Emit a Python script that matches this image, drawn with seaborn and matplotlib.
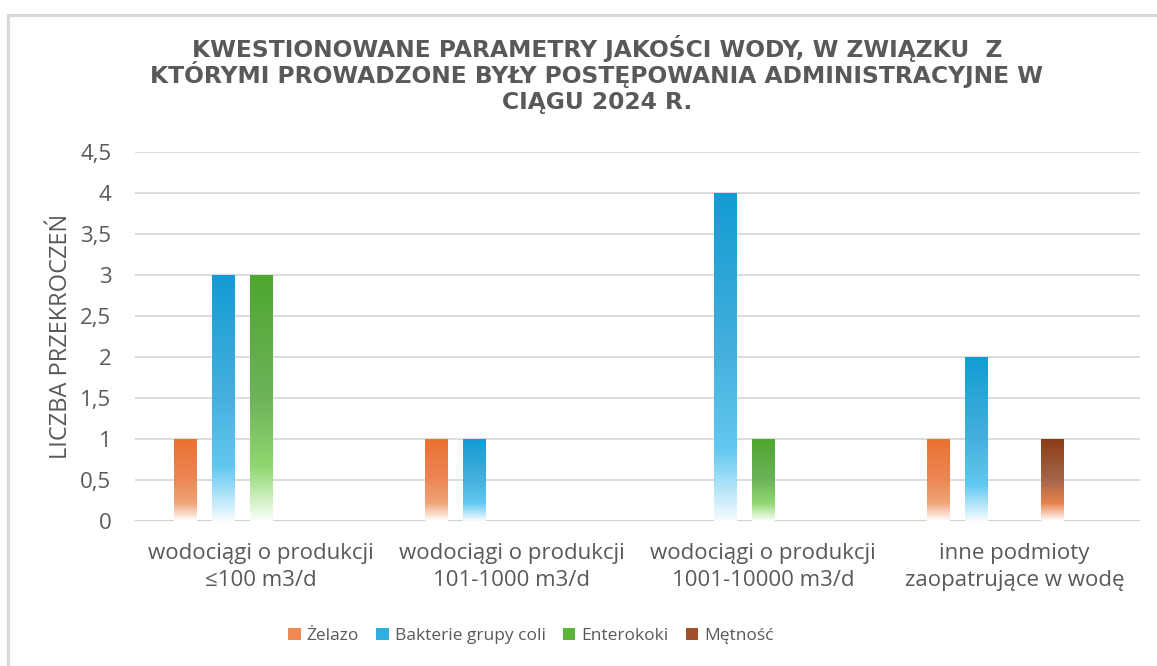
import numpy as np
import pandas as pd
import matplotlib
matplotlib.use("Agg")
import matplotlib.pyplot as plt
from matplotlib.colors import to_rgba
from matplotlib.patches import Patch
from matplotlib.lines import Line2D
import seaborn as sns

# ---- data ----
categories = [
    "wodociągi o produkcji\n≤100 m3/d",
    "wodociągi o produkcji\n101-1000 m3/d",
    "wodociągi o produkcji\n1001-10000 m3/d",
    "inne podmioty\nzaopatrujące w wodę",
]
series_names = ["Żelazo", "Bakterie grupy coli", "Enterokoki", "Mętność"]
zelazo = [1, 1, 0, 1]
bakterie = [3, 1, 4, 2]
enterokoki = [3, 0, 1, 0]
metnosc = [0, 0, 0, 1]
y_ticks = [0, 0.5, 1, 1.5, 2, 2.5, 3, 3.5, 4, 4.5]
y_tick_labels = ["0", "0,5", "1", "1,5", "2", "2,5", "3", "3,5", "4", "4,5"]
title_lines = [
    "KWESTIONOWANE PARAMETRY JAKOŚCI WODY, W ZWIĄZKU  Z",
    "KTÓRYMI PROWADZONE BYŁY POSTĘPOWANIA ADMINISTRACYJNE W",
    "CIĄGU 2024 R.",
]
y_label = "LICZBA PRZEKROCZEŃ"

values = [zelazo, bakterie, enterokoki, metnosc]
rows = []
for s, vals in zip(series_names, values):
    for c, v in zip(categories, vals):
        rows.append({"cat": c, "series": s, "val": v})
df = pd.DataFrame(rows)

# ---- style ----
base_colors = {
    "Żelazo": "#E97132",
    "Bakterie grupy coli": "#139CD3",
    "Enterokoki": "#4EA72E",
    "Mętność": "#8A3D14",
    " ": "#FFFFFF",
}
gradients = {
    "Żelazo": [(0.0, "#E97132"), (0.5, "#EC8856"), (0.78, "#F0A477"), (1.0, "#FFFFFF")],
    "Bakterie grupy coli": [(0.0, "#139CD3"), (0.5, "#46B0DD"), (0.78, "#61C8F1"), (1.0, "#F7FCFF")],
    "Enterokoki": [(0.0, "#4EA72E"), (0.5, "#6DB35A"), (0.78, "#8FD86F"), (1.0, "#FBFFF9")],
    "Mętność": [(0.0, "#8A3D14"), (0.5, "#A6664A"), (0.78, "#E8824C"), (1.0, "#FFFFFF")],
}
legend_colors = {
    "Żelazo": "#EE8A55",
    "Bakterie grupy coli": "#2FAEE0",
    "Enterokoki": "#5DB43C",
    "Mętność": "#A0502A",
}

sns.set_theme(style="white")
plt.rcParams["font.family"] = ["Open Sans", "DejaVu Sans"]
text_color = "#595959"

fig = plt.figure(figsize=(11.57, 6.66), dpi=100)
ax = fig.add_axes([135 / 1157, 1 - 521 / 666, (1140 - 135) / 1157, (521 - 152) / 666])

hue_order = series_names + [" "]
sns.barplot(data=df, x="cat", y="val", hue="series", hue_order=hue_order,
            order=categories, palette=base_colors, width=0.757, gap=0.42,
            saturation=1, errorbar=None, legend=False, ax=ax, zorder=2)

ax.set_ylim(0, 4.5)
xlim = ax.get_xlim()

def make_grad(stops, n=256):
    pos = np.array([p for p, _ in stops])
    cols = np.array([to_rgba(c) for _, c in stops])
    t = np.linspace(0, 1, n)
    img = np.zeros((n, 1, 4))
    for k in range(4):
        img[:, 0, k] = np.interp(t, pos, cols[:, k])
    return img

def nearest_series(fc):
    best, bd = None, 1e9
    for k in series_names:
        d = np.sum((np.array(to_rgba(base_colors[k]))[:3] - np.array(fc)[:3]) ** 2)
        if d < bd:
            best, bd = k, d
    return best

for p in list(ax.patches):
    h = p.get_height()
    if not np.isfinite(h) or h <= 0:
        p.set_visible(False)
        continue
    name = nearest_series(p.get_facecolor())
    x0 = p.get_x()
    w = p.get_width()
    img = make_grad(gradients[name])
    ax.imshow(img, extent=[x0, x0 + w, 0, h], aspect="auto", origin="upper",
              zorder=2.5, interpolation="bilinear")
    p.set_visible(False)

ax.set_xlim(xlim)
ax.set_ylim(0, 4.5)

ax.set_yticks(y_ticks)
ax.set_yticklabels(y_tick_labels)
ax.yaxis.grid(True, color="#D9D9D9", linewidth=1.3, zorder=0)
ax.set_axisbelow(True)
for s in ax.spines.values():
    s.set_visible(False)
ax.axhline(0, color="#D0D0D0", linewidth=1.5, zorder=1)

ax.tick_params(axis="y", length=0, pad=17, labelsize=16, labelcolor=text_color)
ax.tick_params(axis="x", length=0, pad=16, labelsize=16, labelcolor=text_color)
for lab in ax.get_xticklabels():
    lab.set_linespacing(1.38)
ax.set_xlabel("")
ax.set_ylabel(y_label, fontsize=17, color=text_color)
ax.yaxis.set_label_coords((73 - 135) / 1005, 0.5)

# title
title_y = [48, 75, 102]
for line, yy in zip(title_lines, title_y):
    fig.text(597 / 1157, 1 - yy / 666, line, ha="center", va="center",
             fontsize=16.8, fontweight="bold", color=text_color,
             family=["DejaVu Sans"])

# legend
handles = [Patch(facecolor=legend_colors[n], edgecolor="none") for n in series_names]
leg = fig.legend(handles, series_names, loc="center", bbox_to_anchor=(531 / 1157, 1 - 636 / 666),
                 ncol=4, frameon=False, fontsize=12.5, handlelength=0.7, handleheight=0.7,
                 columnspacing=1.0, handletextpad=0.35)
for t in leg.get_texts():
    t.set_color(text_color)

# chart frame
fig.add_artist(Line2D([8 / 1157, 1.0], [1 - 15 / 666, 1 - 15 / 666], color="#D9D9D9", linewidth=2.2,
                      transform=fig.transFigure))
fig.add_artist(Line2D([8 / 1157, 8 / 1157], [1 - 15 / 666, 0.0], color="#D9D9D9", linewidth=2.2,
                      transform=fig.transFigure))

fig.savefig("out.png", dpi=100, facecolor="white")
